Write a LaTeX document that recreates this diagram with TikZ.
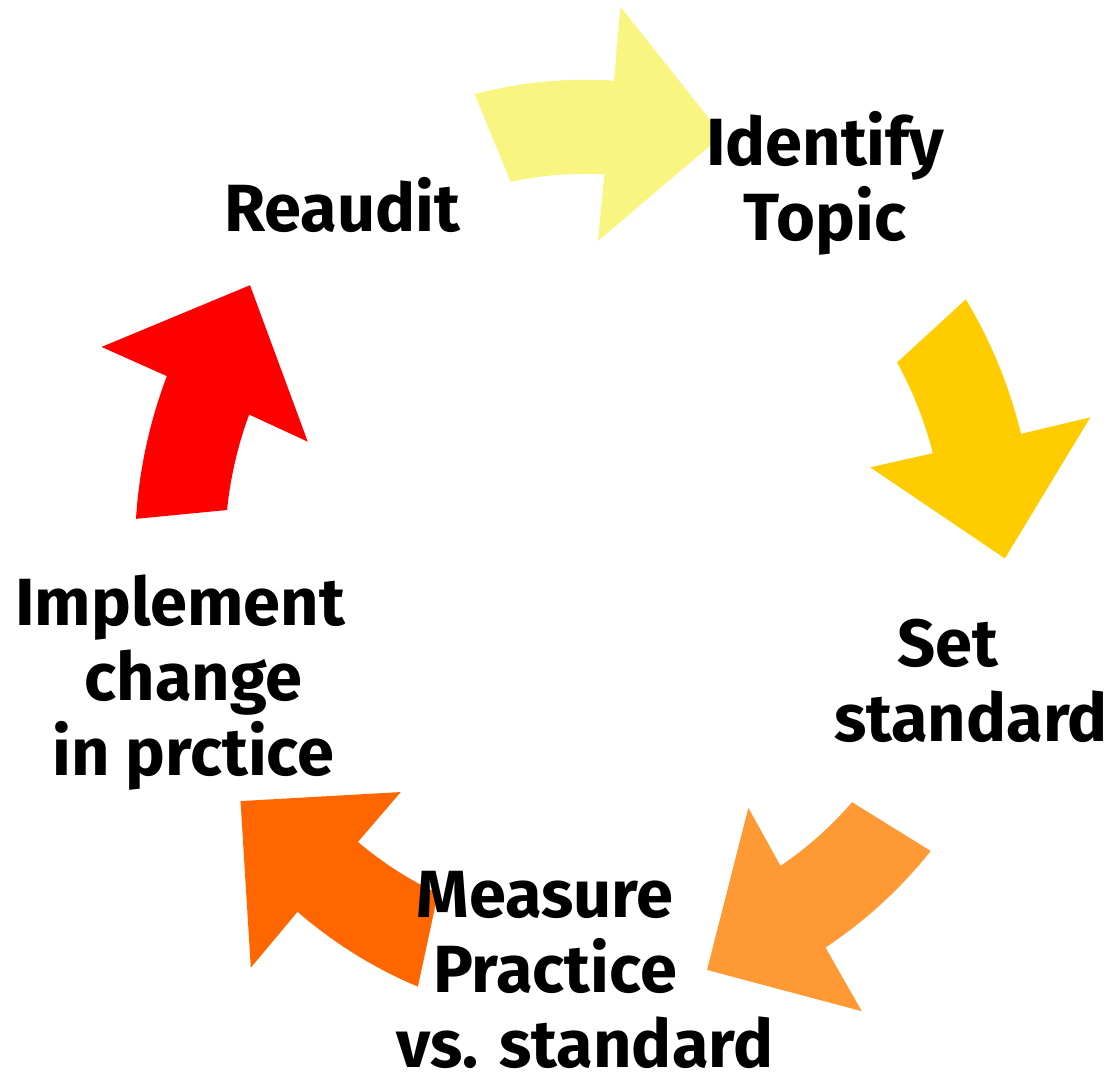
\documentclass[tikz,border=0pt]{standalone}
\usepackage{fontspec}
\usepackage{tikz}
\newfontfamily\labelfont{Fira Sans}
\definecolor{paleyellow}{HTML}{F8F580}
\definecolor{gold}{HTML}{FFCC00}
\definecolor{lightorange}{HTML}{FF9933}
\definecolor{darkorange}{HTML}{FF6600}
\definecolor{brightred}{HTML}{FF0000}
\tikzset{
x=0.02cm, % one unit across
y=0.0209cm, % the ring is a bit taller than it is wide
cyclelabel/.style={font=\labelfont\bfseries\fontsize{38}{42.7}\selectfont, align=center, inner sep=0pt}, % sets the look of every label
}

\begin{document}
\begin{tikzpicture}
    \useasboundingbox (-585,-501.4) rectangle (528,526.3);
    % five block arrows round the ring, \a is the angle of the arrow head base
    \foreach \a/\c in {86.6/paleyellow, 14.6/gold, -57.4/lightorange, -129.4/darkorange, 158.6/brightred}
        \fill[\c] (\a+17.6:450) arc[start angle=\a+17.6, end angle=\a-0.3, radius=450]
            -- (\a-0.5:521) -- (\a-15.7:420) -- (\a+0.9:296) -- (\a+0.3:360)
            arc[start angle=\a+0.3, end angle=\a+15.3, radius=360] -- cycle;
    \node[cyclelabel] (topic) at (240,351.2) {Identify\\Topic};
    \node[cyclelabel] (standard) at (386,-125.4) {Set\kern0.7em\\standard};
    \node[cyclelabel] (measure) at (0,-401.9) {Measure\kern1.2em\\Practice\kern0.9em\\vs. standard};
    \node[cyclelabel] (change) at (-391.5,-127.3) {Implement\kern0.4em\\change\\in prctice};
    \node[cyclelabel, anchor=base] (reaudit) at (-243,304.3) {Reaudit};
\end{tikzpicture}
\end{document}
